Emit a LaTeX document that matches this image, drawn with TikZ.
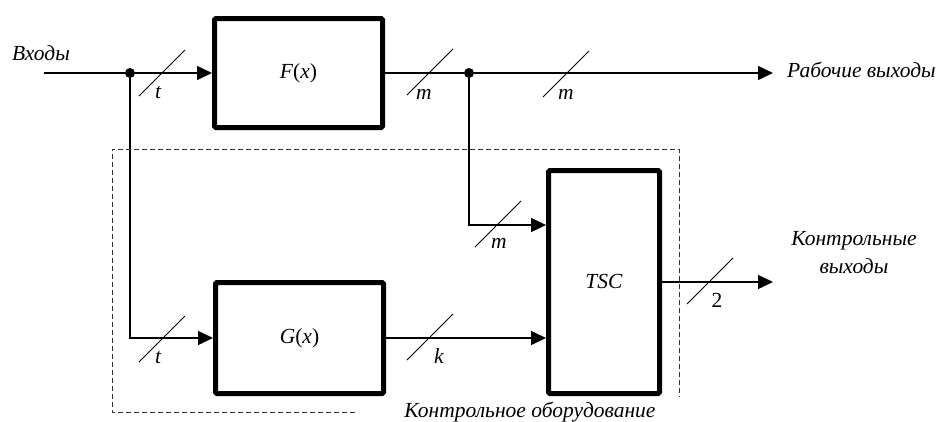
\documentclass[tikz,border=0pt]{standalone}
\usepackage{fontspec}
\setmainfont{Liberation Serif}
\usetikzlibrary{arrows.meta}
\begin{document}
\begin{tikzpicture}[x=1pt,y=-1pt,
  txt/.style={font=\fontsize{21.5}{25}\selectfont\itshape, inner sep=0pt},
  blockbox/.style={draw, line width=5pt, rounded corners=1.5pt, inner sep=0pt,
    font=\fontsize{21.5}{25}\selectfont},
  wire/.style={line width=1.5pt},
  sig/.style={wire, -{Triangle[length=15pt,width=14pt]}},
  junction/.style={circle, fill, inner sep=0pt, minimum size=10pt},
  frame/.style={line width=0.9pt, black!80, dash pattern=on 5pt off 3pt},
  busmark/.pic={\draw[line width=0.8pt] (-23,23) -- (23,-23);}
]
\useasboundingbox (0,0) rectangle (938,421);

% blocks
\node[blockbox, minimum width=168pt, minimum height=109pt] (F) at (298.5,73) {\textit{F}(\textit{x})};
\node[blockbox, minimum width=168pt, minimum height=111pt] (G) at (299.5,338) {\textit{G}(\textit{x})};
\node[blockbox, minimum width=111pt, minimum height=223pt] (T) at (604,282) {\raisebox{2pt}{\textit{TSC}}};

% junctions and free ends
\coordinate (in) at (44,73);
\node[junction] (d1) at (130,73) {};
\node[junction] (d2) at (469,73) {};
\coordinate (outW) at (773,73);
\coordinate (j1) at (469,225);
\coordinate (outC) at (773,282);

% texts
\node[txt, anchor=base] (tin) at (41,60) {Входы};
\node[txt, anchor=base west] (tow) at (787,77) {Рабочие выходы};
\node[txt, anchor=base, align=center] (toc) at (854,273) {Контрольные\\[3pt]выходы};
\node[txt, anchor=base] (tfr) at (530,417) {Контрольное оборудование};

% connectors
\draw[wire] (in) -- (d1);
\draw[sig] (d1) -- (F.west);
\draw[wire] (F.east) -- (d2);
\draw[sig] (d2) -- (outW);
\draw[sig] (d2) -- (j1) -- (j1 -| T.west);
\draw[sig] (d1) |- (G.west);
\draw[sig] (G.east) -- (G.east -| T.west);
\draw[sig] (T.east) -- (outC);

% bus marks
\pic at (162,73) {busmark};
\pic at (430,72) {busmark};
\pic at (566,74) {busmark};
\pic at (498,224) {busmark};
\pic at (162,339) {busmark};
\pic at (430,337) {busmark};
\pic at (710,281) {busmark};

\node[txt, anchor=base] (lt1) at (158,98) {t};
\node[txt, anchor=base] (lm1) at (424,99) {m};
\node[txt, anchor=base] (lm2) at (566,99) {m};
\node[txt, anchor=base] (lm3) at (499,248) {m};
\node[txt, anchor=base] (lt2) at (158,363) {t};
\node[txt, anchor=base] (lk) at (439,363) {k};
\node[txt, anchor=base, font=\fontsize{21.5}{25}\selectfont\upshape] (l2) at (717,307) {2};

% dashed frame
\draw[frame] (355,412) -- (112,412) -- (112,149) -- (679,149) -- (679,397);
\end{tikzpicture}
\end{document}
